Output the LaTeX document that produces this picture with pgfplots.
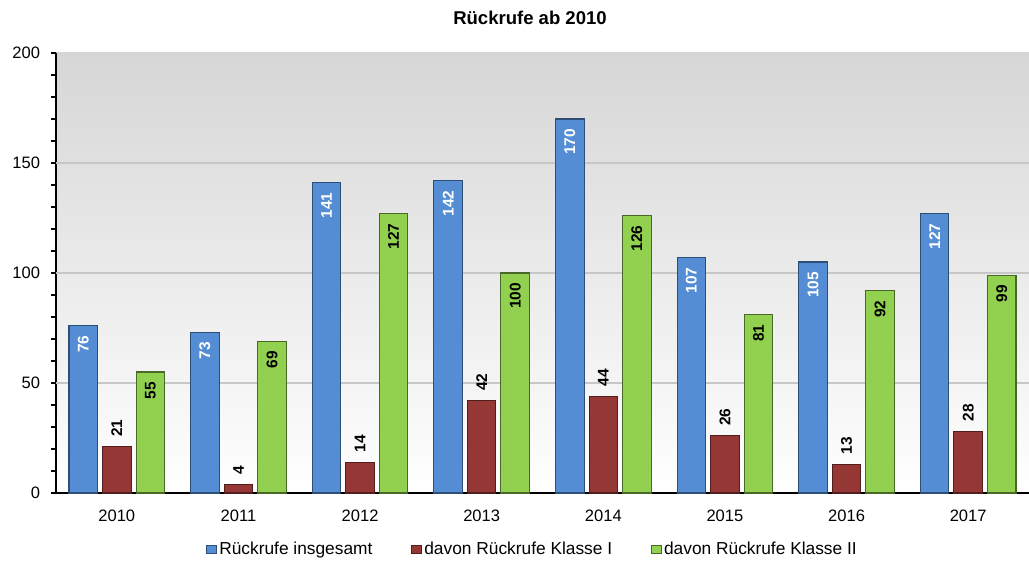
\documentclass[border=0pt]{standalone}
\usepackage{fontspec}
\setmainfont{Liberation Sans}
\usepackage{pgfplots}
\pgfplotsset{compat=1.18}
\definecolor{cblue}{RGB}{84,141,212}
\definecolor{cred}{RGB}{149,55,53}
\definecolor{cgreen}{RGB}{146,208,80}
\begin{document}
\begin{tikzpicture}
\begin{axis}[name=ax, scale only axis, width=729.75pt, height=330pt,
  xmin=-0.5, xmax=7.5, ymin=0, ymax=200,
  ybar=3.75pt, bar width=21.4pt,
  axis x line*=bottom, axis y line*=left,
  axis line style={line width=2pt, -},
  xtick={0,...,7}, xticklabels={2010,2011,2012,2013,2014,2015,2016,2017},
  x tick style={draw=none},
  xticklabel style={yshift=-6pt},
  yticklabel style={xshift=-5pt},
  ytick={0,50,100,150,200}, minor y tick num=4,
  y tick style={black, line width=0.8pt},
  tick align=outside, major tick length=3.5pt, minor tick length=3.5pt,
  axis background/.style={top color=black!16, bottom color=white},
  tick label style={font=\fontsize{12.4}{14}\selectfont},
  /pgf/number format/assume math mode=true,
  legend style={at={(0.490,-0.127)}, anchor=center, draw=none, fill=none,
    legend columns=3, font=\fontsize{13}{15}\selectfont,
    /tikz/every even column/.append style={column sep=27pt}},
  legend image code/.code={\draw[#1,line width=0.4pt] (0pt,-3pt) rectangle (7.5pt,3pt);},
  clip=false,
]
\draw[black!22, line width=1.5pt] (axis cs:-0.5,50) -- (axis cs:7.5,50);
\draw[black!22, line width=1.5pt] (axis cs:-0.5,100) -- (axis cs:7.5,100);
\draw[black!22, line width=1.5pt] (axis cs:-0.5,150) -- (axis cs:7.5,150);
\addplot[fill=cblue, draw=cblue!55!black, line width=0.8pt,
  nodes near coords, every node near coord/.append style={rotate=90, anchor=east, inner xsep=7pt, text=white, font=\bfseries\fontsize{11.6}{13}\selectfont}]
  coordinates {(0,76) (1,73) (2,141) (3,142) (4,170) (5,107) (6,105) (7,127)};
\addplot[fill=cred, draw=cred!55!black, line width=0.8pt,
  nodes near coords, every node near coord/.append style={rotate=90, anchor=west, inner xsep=7pt, text=black, font=\bfseries\fontsize{11.6}{13}\selectfont}]
  coordinates {(0,21) (1,4) (2,14) (3,42) (4,44) (5,26) (6,13) (7,28)};
\addplot[fill=cgreen, draw=cgreen!50!black, line width=0.8pt,
  nodes near coords, every node near coord/.append style={rotate=90, anchor=east, inner xsep=7pt, text=black, font=\bfseries\fontsize{11.6}{13}\selectfont}]
  coordinates {(0,55) (1,69) (2,127) (3,100) (4,126) (5,81) (6,92) (7,99)};
\legend{Rückrufe insgesamt, davon Rückrufe Klasse I, davon Rückrufe Klasse II}
\end{axis}
\node[font=\bfseries\fontsize{13.9}{16}\selectfont] at ([xshift=355.5pt, yshift=26.25pt]ax.north west) {Rückrufe ab 2010};
\pgfresetboundingbox
\path ([xshift=-42pt, yshift=-51pt]ax.south west) rectangle ([yshift=39.75pt]ax.north east);
\end{tikzpicture}
\end{document}
